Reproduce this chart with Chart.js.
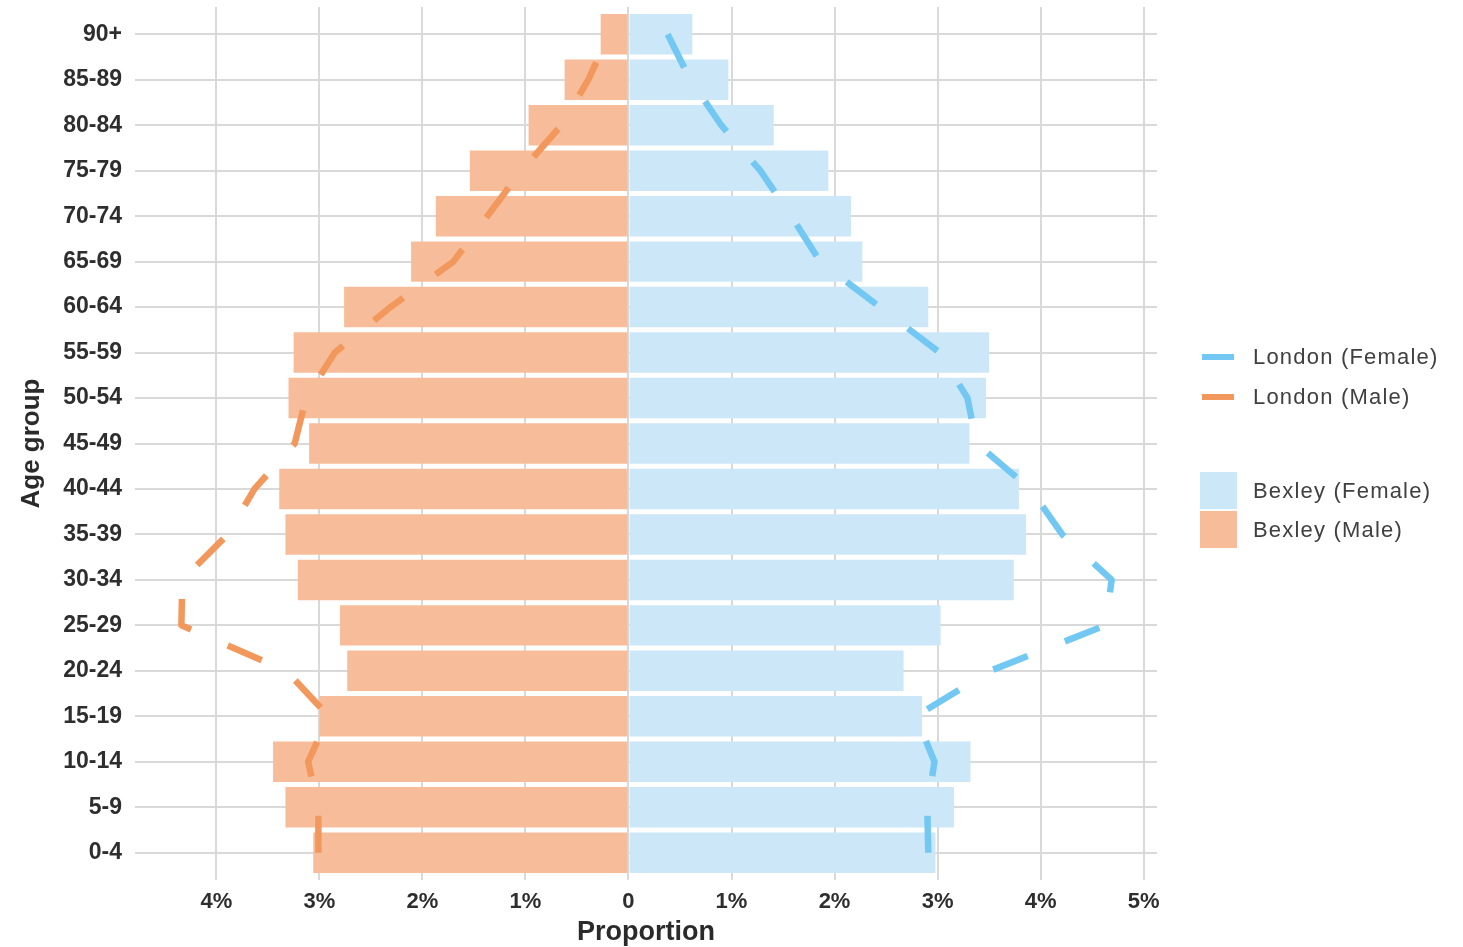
<!DOCTYPE html>
<html>
<head>
<meta charset="utf-8">
<script src="https://cdn.jsdelivr.net/npm/chart.js@4"></script>
<style>
  html, body { margin: 0; padding: 0; background: #fff; }
  #wrap { position: relative; width: 1463px; height: 947px; }
  #chart { position: absolute; left: 0; top: 0; }
  .leg { position: absolute; font-family: "Liberation Sans", Arial, sans-serif; font-size: 22px; letter-spacing: 1.2px; color: #404040; line-height: 24px; white-space: nowrap; }
  .key-line { position: absolute; width: 32px; height: 6px; }
  .key-box { position: absolute; width: 37px; height: 37px; }
</style>
</head>
<body>
<div id="wrap">
  <canvas id="chart" width="1463" height="947"></canvas>
  <div class="key-line" style="left:1202px; top:354px; background:#72c8f2"></div>
  <div class="leg" style="left:1253px; top:345px">London (Female)</div>
  <div class="key-line" style="left:1202px; top:394px; background:#f2985c"></div>
  <div class="leg" style="left:1253px; top:385px">London (Male)</div>
  <div class="key-box" style="left:1200px; top:472px; background:#cce8f8"></div>
  <div class="leg" style="left:1253px; top:479px">Bexley (Female)</div>
  <div class="key-box" style="left:1200px; top:511px; background:#f7bd9a"></div>
  <div class="leg" style="left:1253px; top:518px">Bexley (Male)</div>
</div>
<script>
// tranches d'age, du bas vers le haut
var ageGroups = ["0-4", "5-9", "10-14", "15-19", "20-24", "25-29", "30-34", "35-39", "40-44",
  "45-49", "50-54", "55-59", "60-64", "65-69", "70-74", "75-79", "80-84", "85-89", "90+"];

// proportions en %, hommes en negatif
var bexleyFemale = [2.98, 3.16, 3.32, 2.85, 2.67, 3.03, 3.74, 3.86, 3.79, 3.31,
  3.47, 3.50, 2.91, 2.27, 2.16, 1.94, 1.41, 0.97, 0.62];
var bexleyMale = [-3.06, -3.33, -3.45, -3.00, -2.73, -2.80, -3.21, -3.33, -3.39, -3.10,
  -3.30, -3.25, -2.76, -2.11, -1.87, -1.54, -0.97, -0.62, -0.27];
var londonFemale = [2.91, 2.90, 2.97, 2.79, 3.51, 4.63, 4.69, 4.21, 3.90, 3.38,
  3.29, 3.02, 2.44, 1.86, 1.58, 1.28, 0.90, 0.60, 0.38];
var londonMale = [-3.01, -3.01, -3.11, -2.91, -3.32, -4.34, -4.33, -3.89, -3.63, -3.24,
  -3.13, -2.85, -2.31, -1.70, -1.37, -1.04, -0.65, -0.39, -0.19];

var xTicks = [-4, -3, -2, -1, 0, 1, 2, 3, 4, 5];

function points(values) {
  return values.map(function(v, i) { return { x: v, y: i }; });
}

var font = "'Liberation Sans', Arial, sans-serif";
var gridColor = "#d9d9d9";

function lineDataset(label, values, color) {
  return {
    type: "line",
    label: label,
    data: points(values),
    borderColor: color,
    backgroundColor: color,
    borderWidth: 6.5,
    borderDash: [37, 40],
    borderCapStyle: "butt",
    borderJoinStyle: "round",
    pointRadius: 0,
    tension: 0,
    fill: false,
    order: 0
  };
}

function barDataset(label, values, color) {
  return {
    type: "bar",
    label: label,
    data: points(values),
    backgroundColor: color,
    borderWidth: 0,
    barPercentage: 0.89,
    categoryPercentage: 1,
    order: 1
  };
}

var ctx = document.getElementById("chart").getContext("2d");
var chart = new Chart(ctx, {
  data: {
    datasets: [
      lineDataset("London (Female)", londonFemale, "#72c8f2"),
      lineDataset("London (Male)", londonMale, "#f2985c"),
      barDataset("Bexley (Female)", bexleyFemale, "#cce8f8"),
      barDataset("Bexley (Male)", bexleyMale, "#f7bd9a")
    ]
  },
  options: {
    indexAxis: "y",
    responsive: false,
    animation: false,
    layout: { padding: { left: 0, right: 306, top: 7, bottom: 0 } },
    plugins: { legend: { display: false }, tooltip: { enabled: false } },
    scales: {
      x: {
        type: "linear",
        min: -4.79,
        max: 5.13,
        stacked: false,
        border: { display: false },
        grid: { color: gridColor, lineWidth: 2, drawTicks: false },
        afterBuildTicks: function(scale) {
          scale.ticks = xTicks.map(function(v) { return { value: v }; });
        },
        ticks: {
          padding: 9,
          color: "#2e2e2e",
          font: { family: font, size: 22, weight: "bold" },
          callback: function(v) { return v === 0 ? "0" : Math.abs(v) + "%"; }
        },
        title: {
          display: true,
          text: "Proportion",
          color: "#2a2a2a",
          font: { family: font, size: 27, weight: "bold" },
          padding: { top: 0, bottom: -2 }
        },
        afterFit: function(scale) { scale.height = 67; }
      },
      y: {
        type: "linear",
        min: -0.6,
        max: 18.6,
        stacked: true,
        offset: false,
        border: { display: false },
        grid: { color: gridColor, lineWidth: 2, drawTicks: false, offset: false },
        ticks: {
          stepSize: 1,
          includeBounds: false,
          autoSkip: false,
          padding: 13,
          color: "#2e2e2e",
          font: { family: font, size: 23, weight: "bold" },
          callback: function(v) { return ageGroups[v]; }
        },
        title: {
          display: true,
          text: "Age group",
          color: "#2a2a2a",
          font: { family: font, size: 26, weight: "bold" },
          padding: { top: 16, bottom: 0 }
        },
        afterFit: function(scale) {
          scale.width = 135;
          scale.paddingTop = 0;
          scale.paddingBottom = 0;
        }
      }
    }
  }
});
</script>
</body>
</html>
